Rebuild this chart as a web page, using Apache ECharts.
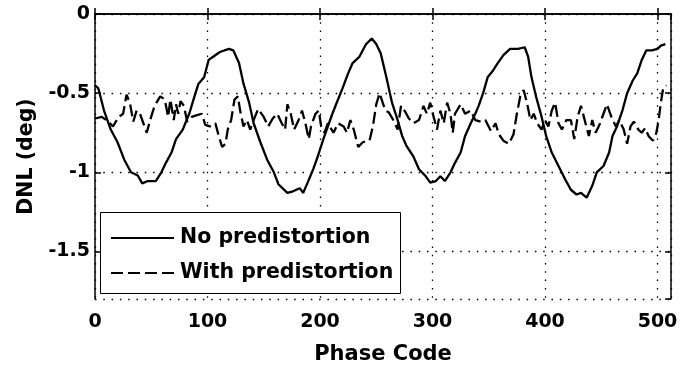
<!DOCTYPE html>
<html>
<head>
<meta charset="utf-8">
<script src="https://cdn.jsdelivr.net/npm/echarts@6/dist/echarts.min.js"></script>
<style>
    html, body { margin: 0; padding: 0; background: #fff; }
    #chart { width: 689px; height: 375px; }
</style>
</head>
<body>
<div id="chart"></div>
<script>
// solid curve: DNL without predistortion
var codesNoPre = [0, 3, 8, 14, 20, 26, 32, 38, 42, 47, 54, 59, 63, 68, 72, 78, 84, 88, 92, 97,
    101, 105, 111, 119, 123, 128, 132, 137, 141, 147, 153, 159, 163, 171, 176, 182, 185, 189, 194, 198,
    203, 207, 211, 216, 220, 225, 229, 235, 241, 246, 250, 254, 259, 264, 269, 273, 277, 283, 288, 294,
    298, 303, 307, 311, 316, 320, 325, 329, 334, 338, 341, 345, 349, 354, 358, 363, 369, 376, 382, 385,
    388, 392, 397, 401, 406, 412, 418, 423, 428, 432, 437, 442, 446, 452, 457, 460, 464, 469, 473, 478,
    482, 486, 490, 495, 500, 503, 507];
var dnlNoPre = [-0.45, -0.47, -0.61, -0.73, -0.81, -0.92, -1.0, -1.02, -1.07, -1.055, -1.055, -1.0, -0.94, -0.875, -0.79, -0.73, -0.625, -0.53, -0.44, -0.40,
    -0.29, -0.27, -0.24, -0.22, -0.23, -0.31, -0.44, -0.56, -0.69, -0.81, -0.92, -1.0, -1.075, -1.13, -1.12, -1.10, -1.13, -1.065, -0.98, -0.90,
    -0.79, -0.71, -0.63, -0.54, -0.47, -0.375, -0.31, -0.27, -0.19, -0.155, -0.19, -0.25, -0.40, -0.56, -0.67, -0.77, -0.835, -0.90, -0.98, -1.025,
    -1.065, -1.055, -1.025, -1.055, -1.0, -0.94, -0.875, -0.77, -0.69, -0.63, -0.58, -0.50, -0.40, -0.355, -0.31, -0.26, -0.22, -0.22, -0.21, -0.27,
    -0.40, -0.52, -0.65, -0.77, -0.875, -0.96, -1.045, -1.11, -1.14, -1.13, -1.16, -1.085, -1.0, -0.96, -0.875, -0.77, -0.71, -0.605, -0.50, -0.42,
    -0.375, -0.29, -0.23, -0.23, -0.22, -0.20, -0.19];

// dashed curve: DNL with predistortion
var codesPre = [0, 6, 12, 16, 21, 25, 28, 31, 34, 37, 40, 43, 46, 49, 53, 58, 62, 65, 67, 70,
    72, 74, 76, 79, 82, 86, 90, 95, 98, 102, 107, 110, 113, 116, 118, 121, 124, 127, 129, 132,
    135, 138, 141, 145, 150, 154, 158, 162, 166, 169, 171, 174, 177, 181, 184, 187, 190, 192, 196, 199,
    201, 204, 207, 212, 216, 221, 224, 227, 230, 234, 238, 244, 247, 250, 253, 258, 261, 266, 269, 272,
    276, 279, 283, 288, 292, 295, 298, 301, 304, 307, 310, 313, 316, 318, 320, 325, 329, 334, 338, 343,
    347, 352, 356, 359, 363, 368, 372, 375, 378, 381, 384, 387, 390, 393, 397, 400, 403, 406, 409, 412,
    415, 419, 423, 426, 429, 432, 436, 439, 442, 445, 449, 452, 455, 459, 463, 466, 470, 473, 476, 479,
    483, 486, 489, 492, 496, 499, 501, 503, 505, 508];
var dnlPre = [-0.66, -0.65, -0.68, -0.71, -0.65, -0.63, -0.51, -0.56, -0.68, -0.61, -0.63, -0.69, -0.75, -0.67, -0.58, -0.52, -0.54, -0.65, -0.54, -0.67,
    -0.57, -0.63, -0.55, -0.58, -0.68, -0.65, -0.64, -0.63, -0.70, -0.71, -0.69, -0.77, -0.84, -0.82, -0.73, -0.67, -0.54, -0.52, -0.61, -0.71,
    -0.67, -0.73, -0.67, -0.60, -0.65, -0.71, -0.66, -0.63, -0.69, -0.73, -0.57, -0.63, -0.73, -0.67, -0.61, -0.69, -0.79, -0.71, -0.63, -0.61,
    -0.71, -0.75, -0.69, -0.75, -0.69, -0.71, -0.75, -0.67, -0.73, -0.84, -0.81, -0.80, -0.71, -0.57, -0.50, -0.61, -0.62, -0.68, -0.73, -0.58,
    -0.62, -0.66, -0.69, -0.67, -0.58, -0.63, -0.56, -0.65, -0.73, -0.61, -0.69, -0.56, -0.63, -0.75, -0.63, -0.57, -0.63, -0.61, -0.67, -0.68,
    -0.67, -0.74, -0.69, -0.76, -0.80, -0.82, -0.76, -0.63, -0.52, -0.48, -0.56, -0.67, -0.63, -0.69, -0.73, -0.67, -0.71, -0.61, -0.56, -0.69,
    -0.73, -0.67, -0.67, -0.79, -0.65, -0.58, -0.69, -0.77, -0.67, -0.75, -0.69, -0.63, -0.57, -0.65, -0.71, -0.67, -0.73, -0.82, -0.71, -0.68,
    -0.73, -0.75, -0.72, -0.77, -0.80, -0.75, -0.67, -0.56, -0.47, -0.45];

var xTickLabels = ['0', '100', '200', '300', '400', '500'];
var yTickLabels = ['0', '-0.5', '-1', '-1.5'];

function pairs(xs, ys) {
    return xs.map(function (x, i) { return [x, ys[i]]; });
}

var chart = echarts.init(document.getElementById('chart'), null, {renderer: 'canvas'});
var fontFamily = '"DejaVu Sans", sans-serif';
var dotted = {color: '#000', width: 1.3, type: [1.5, 6.8]};

var option = {
    animation: false,
    backgroundColor: '#fff',
    grid: {left: 95, right: 18, top: 14, bottom: 76},
    graphic: [{
        type: 'rect',
        z: 3,
        shape: {x: 100.5, y: 212.5, width: 300, height: 81},
        style: {fill: '#fff', stroke: '#000', lineWidth: 1}
    }],
    legend: {
        left: 110,
        top: 226,
        orient: 'vertical',
        padding: 0,
        itemWidth: 63,
        itemHeight: 14,
        itemGap: 11,
        z: 5,
        itemStyle: {opacity: 0},
        textStyle: {fontFamily: fontFamily, fontSize: 20.5, fontWeight: 'bold', color: '#000', lineHeight: 24, padding: [0, 0, 0, 1]},
        data: ['No predistortion', 'With predistortion']
    },
    xAxis: [{
        type: 'value',
        min: 0, max: 512,
        minInterval: 100, maxInterval: 100,
        name: 'Phase Code',
        nameLocation: 'middle',
        nameGap: 45,
        nameTextStyle: {fontFamily: fontFamily, fontSize: 21, fontWeight: 'bold', color: '#000'},
        axisLine: {lineStyle: {color: '#000', width: 1.5}},
        axisTick: {inside: true, length: 6, lineStyle: {color: '#000', width: 1.5}},
        axisLabel: {
            margin: 14, showMaxLabel: false,
            fontFamily: fontFamily, fontSize: 19, fontWeight: 'bold', color: '#000',
            formatter: function (v) { return xTickLabels.indexOf(String(v)) >= 0 ? String(v) : ''; }
        },
        splitLine: {show: true, lineStyle: dotted}
    }, {
        type: 'value',
        position: 'top',
        min: 0, max: 512,
        minInterval: 100, maxInterval: 100,
        axisLine: {show: true, onZero: false, lineStyle: {color: '#000', width: 1.5}},
        axisTick: {inside: true, length: 6, lineStyle: {color: '#000', width: 1.5}},
        axisLabel: {show: false},
        splitLine: {show: false}
    }],
    yAxis: [{
        type: 'value',
        min: -1.8, max: 0,
        minInterval: 0.5, maxInterval: 0.5,
        name: 'DNL (deg)',
        nameLocation: 'middle',
        nameGap: 57,
        nameTextStyle: {fontFamily: fontFamily, fontSize: 20.5, fontWeight: 'bold', color: '#000'},
        axisLine: {show: true, onZero: false, lineStyle: {color: '#000', width: 1.5}},
        axisTick: {show: true, inside: true, length: 6, lineStyle: {color: '#000', width: 1.5}},
        axisLabel: {
            margin: 5, showMinLabel: false,
            fontFamily: fontFamily, fontSize: 19, fontWeight: 'bold', color: '#000',
            formatter: function (v) { var s = String(Math.round(v * 10) / 10); return yTickLabels.indexOf(s) >= 0 ? s : ''; }
        },
        splitLine: {show: true, lineStyle: dotted}
    }, {
        type: 'value',
        position: 'right',
        min: -1.8, max: 0,
        minInterval: 0.5, maxInterval: 0.5,
        axisLine: {show: true, onZero: false, lineStyle: {color: '#000', width: 1.5}},
        axisTick: {show: true, inside: true, length: 6, lineStyle: {color: '#000', width: 1.5}},
        axisLabel: {show: false},
        splitLine: {show: false}
    }],
    series: [{
        name: 'No predistortion',
        type: 'line',
        symbol: 'none',
        z: 2,
        lineStyle: {color: '#000', width: 2.3},
        itemStyle: {color: '#000'},
        data: pairs(codesNoPre, dnlNoPre)
    }, {
        name: 'With predistortion',
        type: 'line',
        symbol: 'none',
        z: 2,
        lineStyle: {color: '#000', width: 2.3, type: [12, 5]},
        itemStyle: {color: '#000'},
        data: pairs(codesPre, dnlPre)
    }]
};
chart.setOption(option);
</script>
</body>
</html>
